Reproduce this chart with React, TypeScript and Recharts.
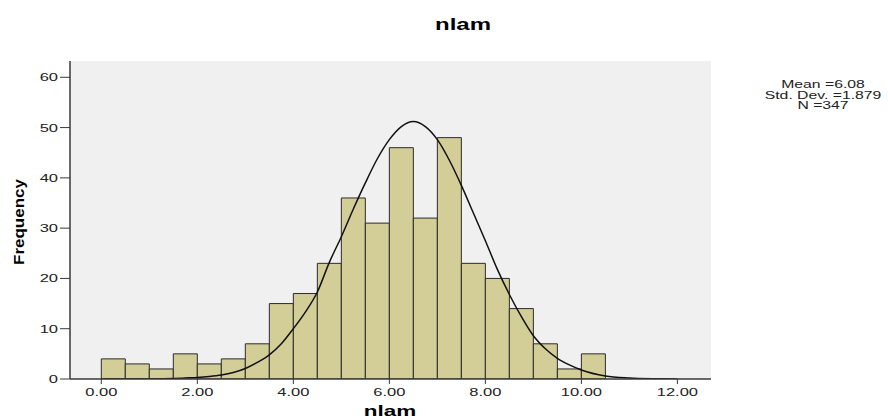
import React from 'react';
import { ComposedChart, Bar, Line, XAxis, YAxis, CartesianGrid } from 'recharts';

// histogram bins (centre of each 0.5-wide bin) and counts
const binCenters = [0.25, 0.75, 1.25, 1.75, 2.25, 2.75, 3.25, 3.75, 4.25, 4.75, 5.25, 5.75, 6.25, 6.75, 7.25, 7.75, 8.25, 8.75, 9.25, 9.75, 10.25];
const binCounts = [4, 3, 2, 5, 3, 4, 7, 15, 17, 23, 36, 31, 46, 32, 48, 23, 20, 14, 7, 2, 5];

// normal curve
const curveX = [0, 0.5, 1, 1.5, 1.75, 2, 2.25, 2.5, 2.75, 3, 3.25, 3.5, 3.75, 4, 4.25, 4.5, 4.75, 5, 5.25, 5.5, 5.75, 6, 6.25, 6.5, 6.75, 7, 7.25, 7.5, 7.75, 8, 8.25, 8.5, 8.75, 9, 9.25, 9.5, 9.75, 10, 10.5, 11, 11.5, 12];
const curveY = [0, 0, 0.02, 0.1, 0.2, 0.3, 0.5, 0.8, 1.3, 2.1, 3.3, 4.8, 7.0, 10.0, 13.3, 17.3, 23.2, 28.3, 33.8, 39.0, 43.8, 47.6, 50.2, 51.2, 50.2, 47.6, 43.5, 38.5, 33.0, 27.5, 21.8, 16.8, 12.4, 8.6, 6.0, 4.1, 2.8, 1.8, 0.6, 0.2, 0.06, 0.02];

const xTicks = [0, 2, 4, 6, 8, 10, 12];
const yTicks = [0, 10, 20, 30, 40, 50, 60];
const statLines = ['Mean =6.08', 'Std. Dev. =1.879', 'N =347'];

const xDomain: [number, number] = [-0.652, 12.7];
const yDomain: [number, number] = [0, 63.24];

const W = 888;
const H = 419;
const FONT = '"Liberation Sans", Arial, sans-serif';

const barData = binCenters.map((x, i) => ({ x, count: binCounts[i] }));
const curveData = curveX.map((x, i) => ({ x, y: curveY[i] }));

const XTick = (props: any) => {
  const { x, y, payload } = props;
  return (
    <g transform={`translate(${x},${y})`}>
      <text transform="scale(1.5,1)" y={9.5} textAnchor="middle" fontSize={11} fill="#222" fontFamily={FONT}>
        {Number(payload.value).toFixed(2)}
      </text>
    </g>
  );
};

const YTick = (props: any) => {
  const { x, y, payload } = props;
  return (
    <g transform={`translate(${x},${y})`}>
      <text transform="scale(1.5,1)" y={4} textAnchor="end" fontSize={11} fill="#222" fontFamily={FONT}>
        {payload.value}
      </text>
    </g>
  );
};

export default function App() {
  return (
    <div style={{ position: 'absolute', left: 0, top: 0, width: W, height: H, background: '#fff' }}>
      <ComposedChart
        width={W}
        height={H}
        data={barData}
        margin={{ top: 61, right: 177, left: 30, bottom: 15 }}
        barCategoryGap={0}
        barGap={0}
      >
        <CartesianGrid fill="#f0f0f0" horizontal={false} vertical={false} />
        <XAxis
          dataKey="x"
          type="number"
          domain={xDomain}
          allowDataOverflow
          ticks={xTicks}
          interval={0}
          height={25}
          tickSize={5}
          tickMargin={2}
          tick={<XTick />}
          axisLine={{ stroke: '#3a3a3a', strokeWidth: 1.5 }}
          tickLine={{ stroke: '#3a3a3a' }}
        />
        <XAxis
          xAxisId="curve"
          dataKey="x"
          type="number"
          domain={xDomain}
          allowDataOverflow
          hide
        />
        <XAxis
          xAxisId="top"
          orientation="top"
          type="number"
          domain={xDomain}
          allowDataOverflow
          height={0}
          tick={false}
          tickLine={false}
          axisLine={{ stroke: '#888', strokeWidth: 1.5 }}
        />
        <YAxis
          type="number"
          domain={yDomain}
          allowDataOverflow
          ticks={yTicks}
          interval={0}
          width={40}
          tickSize={10}
          tickMargin={2}
          tick={<YTick />}
          axisLine={{ stroke: '#3a3a3a', strokeWidth: 1.5 }}
          tickLine={{ stroke: '#3a3a3a' }}
        />
        <YAxis
          yAxisId="right"
          orientation="right"
          type="number"
          domain={yDomain}
          allowDataOverflow
          width={0}
          tick={false}
          tickLine={false}
          axisLine={{ stroke: '#888', strokeWidth: 1.5 }}
        />
        <Bar dataKey="count" fill="#d3ce98" stroke="#2b2b2b" strokeWidth={1} isAnimationActive={false} />
        <Line
          xAxisId="curve"
          data={curveData}
          dataKey="y"
          type="monotone"
          stroke="#111"
          strokeWidth={1.5}
          dot={false}
          activeDot={false}
          isAnimationActive={false}
        />
      </ComposedChart>
      <svg width={W} height={H} style={{ position: 'absolute', left: 0, top: 0, pointerEvents: 'none' }}>
        <g transform="translate(463,29.5)">
          <text transform="scale(1.5,1)" textAnchor="middle" fontSize={16} fontWeight="bold" fontFamily={FONT} fill="#000">
            nlam
          </text>
        </g>
        <g transform="translate(390,416)">
          <text transform="scale(1.5,1)" textAnchor="middle" fontSize={15} fontWeight="bold" fontFamily={FONT} fill="#000">
            nlam
          </text>
        </g>
        <g transform="translate(24,222) rotate(-90)">
          <text transform="scale(1,0.85)" textAnchor="middle" fontSize={17} fontWeight="bold" fontFamily={FONT} fill="#000">
            Frequency
          </text>
        </g>
        {statLines.map((s, i) => (
          <g key={s} transform={`translate(823,${88 + i * 10.6})`}>
            <text transform="scale(1.5,1)" textAnchor="middle" fontSize={10.5} fontFamily={FONT} fill="#222">
              {s}
            </text>
          </g>
        ))}
      </svg>
    </div>
  );
}
